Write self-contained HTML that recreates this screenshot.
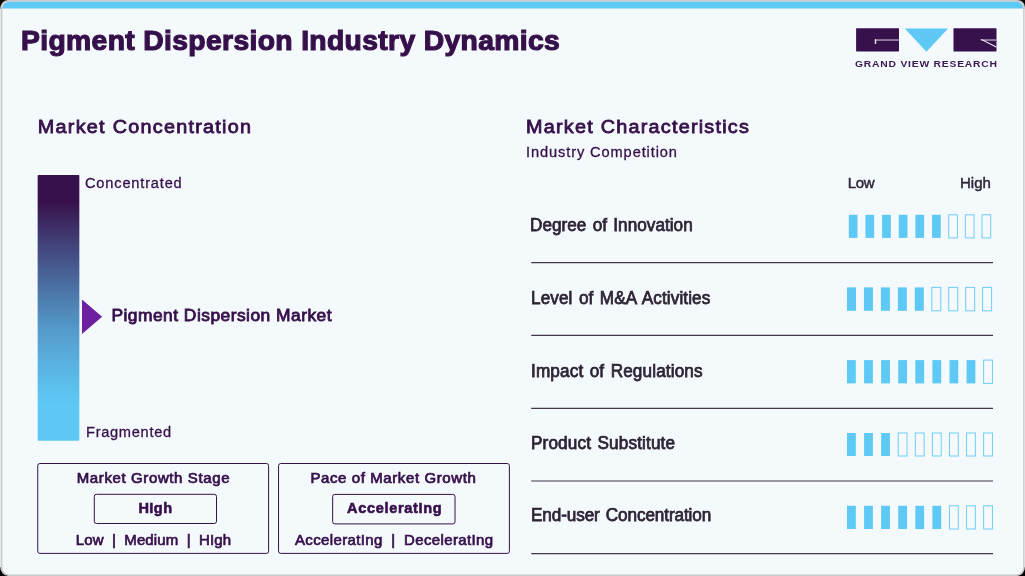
<!DOCTYPE html>
<html lang="en">
<head>
<meta charset="utf-8">
<title>Pigment Dispersion Industry Dynamics</title>
<style>
html,body{margin:0;padding:0;}
body{width:1025px;height:576px;overflow:hidden;background:#000;font-family:"Liberation Sans",sans-serif;}
#card{position:absolute;left:0;top:0;width:1025px;height:576px;overflow:hidden;}
#card svg{position:absolute;left:0;top:0;}
.t{position:absolute;white-space:nowrap;line-height:1;font-family:"Liberation Sans",sans-serif;}
#txt{position:absolute;left:0;top:0;width:1025px;height:576px;will-change:transform;}
</style>
</head>
<body>
<div id="card">
<svg width="1025" height="576" viewBox="0 0 1025 576">
<defs>
<linearGradient id="g" x1="0" y1="0" x2="0" y2="1">
<stop offset="0.0000" stop-color="#37114c"/>
<stop offset="0.1016" stop-color="#37114c"/>
<stop offset="0.2480" stop-color="#413f76"/>
<stop offset="0.4740" stop-color="#4e7fb1"/>
<stop offset="0.5870" stop-color="#549bcb"/>
<stop offset="0.7000" stop-color="#59b0de"/>
<stop offset="0.8130" stop-color="#5cc2ee"/>
<stop offset="0.8650" stop-color="#5ec9f5"/>
<stop offset="1.0000" stop-color="#5ec9f5"/>
</linearGradient>
<clipPath id="cp"><rect x="2.4" y="1.7" width="1020.7" height="572.8" rx="7" ry="7"/></clipPath>
</defs>
<rect x="0" y="0" width="1025" height="576" fill="#000"/>
<path d="M7.7,0 H1017.3 A7.7,7.2 0 0 1 1025,7.2 V566.5 A7.7,9.5 0 0 1 1017.3,576 H8.2 A8.2,10.5 0 0 1 0,565.5 V9.8 A7.7,9.8 0 0 1 7.7,0 Z" fill="#cbcbcb"/>
<rect x="0" y="9" width="1" height="558" fill="#e6e7e8"/>
<rect x="1024" y="9" width="1" height="558" fill="#dcdddf"/>
<g clip-path="url(#cp)">
<rect x="0" y="0" width="1025" height="576" fill="#f4f9fc"/>
<rect x="0" y="0" width="1025" height="8.5" fill="#5ec9f5"/>
</g>
<!-- gradient bar -->
<rect x="37.65" y="175" width="41.7" height="265.8" rx="1" fill="url(#g)"/>
<!-- marker -->
<polygon points="82.0,299.4 102.1,316.7 82.0,334.1" fill="#6d21a0"/>
<!-- boxes -->
<rect x="37.75" y="463.5" width="230.85" height="89.9" rx="2.2" fill="none" stroke="#36104b" stroke-width="1"/>
<rect x="278.55" y="463.5" width="230.85" height="89.9" rx="2.2" fill="none" stroke="#36104b" stroke-width="1"/>
<rect x="94.3" y="494.3" width="122.2" height="29.2" rx="2.2" fill="none" stroke="#36104b" stroke-width="1"/>
<rect x="332.65" y="494.4" width="122.35" height="29.5" rx="2.2" fill="none" stroke="#36104b" stroke-width="1"/>
<!-- logo -->
<g id="logo">
<rect x="856.1" y="28.2" width="42.9" height="23.2" rx="0.6" fill="#37114c"/>
<rect x="875.2" y="39.2" width="23.8" height="1.7" fill="#9c86a8"/>
<rect x="874.8" y="39.2" width="1.4" height="4.7" fill="#efe9f3"/>
<polygon points="904.8,28.4 948.1,28.4 926.4,51.8" fill="#5ec9f5"/>
<rect x="953.5" y="28.2" width="43" height="23.2" rx="0.6" fill="#37114c"/>
<rect x="981" y="39.2" width="15.5" height="1.7" fill="#9c86a8"/>
<polygon points="980.1,39.2 982.2,39.2 996.5,46.4 996.5,47.7" fill="#f3eff6"/>
</g>
<!-- separators -->
<line x1="531.2" x2="993" y1="262.55" y2="262.55" stroke="#41364a" stroke-width="1.15"/>
<line x1="531.2" x2="993" y1="335.4" y2="335.4" stroke="#41364a" stroke-width="1.15"/>
<line x1="531.2" x2="993" y1="408.3" y2="408.3" stroke="#41364a" stroke-width="1.15"/>
<line x1="531.2" x2="993" y1="481.0" y2="481.0" stroke="#41364a" stroke-width="1.15"/>
<line x1="531.2" x2="993" y1="553.65" y2="553.65" stroke="#41364a" stroke-width="1.15"/>
<!-- rating bars -->
<rect x="848.80" y="214.80" width="8.7" height="23.1" fill="#5ec9f5"/>
<rect x="865.45" y="214.80" width="8.7" height="23.1" fill="#5ec9f5"/>
<rect x="882.10" y="214.80" width="8.7" height="23.1" fill="#5ec9f5"/>
<rect x="898.75" y="214.80" width="8.7" height="23.1" fill="#5ec9f5"/>
<rect x="915.40" y="214.80" width="8.7" height="23.1" fill="#5ec9f5"/>
<rect x="932.05" y="214.80" width="8.7" height="23.1" fill="#5ec9f5"/>
<rect x="948.70" y="214.80" width="8.7" height="23.1" fill="#f6fafd" stroke="#5ec9f5" stroke-width="1" stroke-opacity="0.9"/>
<rect x="965.35" y="214.80" width="8.7" height="23.1" fill="#f6fafd" stroke="#5ec9f5" stroke-width="1" stroke-opacity="0.9"/>
<rect x="982.00" y="214.80" width="8.7" height="23.1" fill="#f6fafd" stroke="#5ec9f5" stroke-width="1" stroke-opacity="0.9"/>
<rect x="847.00" y="287.40" width="9.0" height="23.4" fill="#5ec9f5"/>
<rect x="863.95" y="287.40" width="9.0" height="23.4" fill="#5ec9f5"/>
<rect x="880.90" y="287.40" width="9.0" height="23.4" fill="#5ec9f5"/>
<rect x="897.85" y="287.40" width="9.0" height="23.4" fill="#5ec9f5"/>
<rect x="914.80" y="287.40" width="9.0" height="23.4" fill="#5ec9f5"/>
<rect x="931.75" y="287.40" width="9.0" height="23.4" fill="#f6fafd" stroke="#5ec9f5" stroke-width="1" stroke-opacity="0.9"/>
<rect x="948.70" y="287.40" width="9.0" height="23.4" fill="#f6fafd" stroke="#5ec9f5" stroke-width="1" stroke-opacity="0.9"/>
<rect x="965.65" y="287.40" width="9.0" height="23.4" fill="#f6fafd" stroke="#5ec9f5" stroke-width="1" stroke-opacity="0.9"/>
<rect x="982.60" y="287.40" width="9.0" height="23.4" fill="#f6fafd" stroke="#5ec9f5" stroke-width="1" stroke-opacity="0.9"/>
<rect x="847.00" y="360.10" width="8.8" height="23.3" fill="#5ec9f5"/>
<rect x="864.08" y="360.10" width="8.8" height="23.3" fill="#5ec9f5"/>
<rect x="881.16" y="360.10" width="8.8" height="23.3" fill="#5ec9f5"/>
<rect x="898.24" y="360.10" width="8.8" height="23.3" fill="#5ec9f5"/>
<rect x="915.32" y="360.10" width="8.8" height="23.3" fill="#5ec9f5"/>
<rect x="932.40" y="360.10" width="8.8" height="23.3" fill="#5ec9f5"/>
<rect x="949.48" y="360.10" width="8.8" height="23.3" fill="#5ec9f5"/>
<rect x="966.56" y="360.10" width="8.8" height="23.3" fill="#5ec9f5"/>
<rect x="983.64" y="360.10" width="8.8" height="23.3" fill="#f6fafd" stroke="#5ec9f5" stroke-width="1" stroke-opacity="0.9"/>
<rect x="847.00" y="433.00" width="8.8" height="23.0" fill="#5ec9f5"/>
<rect x="864.08" y="433.00" width="8.8" height="23.0" fill="#5ec9f5"/>
<rect x="881.16" y="433.00" width="8.8" height="23.0" fill="#5ec9f5"/>
<rect x="898.24" y="433.00" width="8.8" height="23.0" fill="#f6fafd" stroke="#5ec9f5" stroke-width="1" stroke-opacity="0.9"/>
<rect x="915.32" y="433.00" width="8.8" height="23.0" fill="#f6fafd" stroke="#5ec9f5" stroke-width="1" stroke-opacity="0.9"/>
<rect x="932.40" y="433.00" width="8.8" height="23.0" fill="#f6fafd" stroke="#5ec9f5" stroke-width="1" stroke-opacity="0.9"/>
<rect x="949.48" y="433.00" width="8.8" height="23.0" fill="#f6fafd" stroke="#5ec9f5" stroke-width="1" stroke-opacity="0.9"/>
<rect x="966.56" y="433.00" width="8.8" height="23.0" fill="#f6fafd" stroke="#5ec9f5" stroke-width="1" stroke-opacity="0.9"/>
<rect x="983.64" y="433.00" width="8.8" height="23.0" fill="#f6fafd" stroke="#5ec9f5" stroke-width="1" stroke-opacity="0.9"/>
<rect x="847.00" y="505.80" width="8.8" height="23.2" fill="#5ec9f5"/>
<rect x="864.08" y="505.80" width="8.8" height="23.2" fill="#5ec9f5"/>
<rect x="881.16" y="505.80" width="8.8" height="23.2" fill="#5ec9f5"/>
<rect x="898.24" y="505.80" width="8.8" height="23.2" fill="#5ec9f5"/>
<rect x="915.32" y="505.80" width="8.8" height="23.2" fill="#5ec9f5"/>
<rect x="932.40" y="505.80" width="8.8" height="23.2" fill="#5ec9f5"/>
<rect x="949.48" y="505.80" width="8.8" height="23.2" fill="#f6fafd" stroke="#5ec9f5" stroke-width="1" stroke-opacity="0.9"/>
<rect x="966.56" y="505.80" width="8.8" height="23.2" fill="#f6fafd" stroke="#5ec9f5" stroke-width="1" stroke-opacity="0.9"/>
<rect x="983.64" y="505.80" width="8.8" height="23.2" fill="#f6fafd" stroke="#5ec9f5" stroke-width="1" stroke-opacity="0.9"/>
</svg>
<div id="txt">
<div class="t" style="left:20.63px;top:27.00px;font-size:27.2px;font-weight:bold;letter-spacing:0.343px;color:#36104b;-webkit-text-stroke:1.15px #36104b;transform:scale(1.04,1.0);transform-origin:0 0;">Pigment Dispersion Industry Dynamics</div>
<div class="t" style="left:37.77px;top:117.88px;font-size:19.8px;font-weight:normal;letter-spacing:1.273px;color:#36104b;-webkit-text-stroke:0.85px #36104b;transform:scale(1.0,0.945);transform-origin:0 0;">Market Concentration</div>
<div class="t" style="left:526.07px;top:117.88px;font-size:19.8px;font-weight:normal;letter-spacing:1.241px;color:#36104b;-webkit-text-stroke:0.85px #36104b;transform:scale(1.0,0.945);transform-origin:0 0;">Market Characteristics</div>
<div class="t" style="left:525.98px;top:144.00px;font-size:15.4px;font-weight:normal;letter-spacing:0.936px;color:#36104b;-webkit-text-stroke:0.3px #36104b;transform:scale(0.95,1.0);transform-origin:0 0;">Industry Competition</div>
<div class="t" style="left:85.34px;top:175.00px;font-size:15.4px;font-weight:normal;letter-spacing:0.854px;color:#36104b;-webkit-text-stroke:0.3px #36104b;transform:scale(0.95,1.0);transform-origin:0 0;">Concentrated</div>
<div class="t" style="left:85.87px;top:424.00px;font-size:15.4px;font-weight:normal;letter-spacing:0.736px;color:#36104b;-webkit-text-stroke:0.3px #36104b;transform:scale(0.95,1.0);transform-origin:0 0;">Fragmented</div>
<div class="t" style="left:111.46px;top:307.70px;font-size:17.4px;font-weight:normal;letter-spacing:0.472px;color:#36104b;-webkit-text-stroke:0.85px #36104b;transform:scale(1.0,0.95);transform-origin:0 0;">Pigment Dispersion Market</div>
<div class="t" style="left:76.75px;top:470.39px;font-size:15.0px;font-weight:normal;letter-spacing:0.612px;color:#36104b;-webkit-text-stroke:0.75px #36104b;transform:scale(1.0,0.97);transform-origin:0 0;">Market Growth Stage</div>
<div class="t" style="left:310.45px;top:470.39px;font-size:15.0px;font-weight:normal;letter-spacing:0.597px;color:#36104b;-webkit-text-stroke:0.75px #36104b;transform:scale(1.0,0.97);transform-origin:0 0;">Pace of Market Growth</div>
<div class="t" style="left:138.45px;top:501.00px;font-size:14.5px;font-weight:bold;letter-spacing:0.453px;color:#36104b;-webkit-text-stroke:0.6px #36104b;">HIgh</div>
<div class="t" style="left:347.03px;top:501.00px;font-size:14.5px;font-weight:bold;letter-spacing:0.692px;color:#36104b;-webkit-text-stroke:0.6px #36104b;">AcceleratIng</div>
<div class="t" style="left:75.83px;top:532.39px;font-size:15.0px;font-weight:normal;letter-spacing:0.120px;color:#36104b;-webkit-text-stroke:0.7px #36104b;transform:scale(1.0,0.97);transform-origin:0 0;word-spacing:4.0px;">Low | Medium | HIgh</div>
<div class="t" style="left:294.97px;top:532.39px;font-size:15.0px;font-weight:normal;letter-spacing:0.363px;color:#36104b;-webkit-text-stroke:0.7px #36104b;transform:scale(1.0,0.97);transform-origin:0 0;word-spacing:4.0px;">AcceleratIng | DeceleratIng</div>
<div class="t" style="left:530.33px;top:217.00px;font-size:17.5px;font-weight:normal;letter-spacing:0.030px;color:#2e2436;-webkit-text-stroke:0.75px #2e2436;transform:scale(0.98,1.0);transform-origin:0 0;word-spacing:1.5px;">Degree of Innovation</div>
<div class="t" style="left:530.83px;top:290.00px;font-size:17.5px;font-weight:normal;letter-spacing:0.111px;color:#2e2436;-webkit-text-stroke:0.75px #2e2436;transform:scale(0.98,1.0);transform-origin:0 0;word-spacing:1.5px;">Level of M&amp;A Activities</div>
<div class="t" style="left:530.75px;top:363.00px;font-size:17.5px;font-weight:normal;letter-spacing:0.142px;color:#2e2436;-webkit-text-stroke:0.75px #2e2436;transform:scale(0.98,1.0);transform-origin:0 0;word-spacing:1.5px;">Impact of Regulations</div>
<div class="t" style="left:530.83px;top:435.00px;font-size:17.5px;font-weight:normal;letter-spacing:0.147px;color:#2e2436;-webkit-text-stroke:0.75px #2e2436;transform:scale(0.98,1.0);transform-origin:0 0;word-spacing:1.5px;">Product Substitute</div>
<div class="t" style="left:530.83px;top:507.00px;font-size:17.5px;font-weight:normal;letter-spacing:-0.115px;color:#2e2436;-webkit-text-stroke:0.75px #2e2436;transform:scale(0.98,1.0);transform-origin:0 0;word-spacing:1.5px;">End-user Concentration</div>
<div class="t" style="left:847.79px;top:175.00px;font-size:15.0px;font-weight:normal;letter-spacing:-0.420px;color:#2e2436;-webkit-text-stroke:0.45px #2e2436;">Low</div>
<div class="t" style="left:959.89px;top:175.00px;font-size:15.0px;font-weight:normal;letter-spacing:0.071px;color:#2e2436;-webkit-text-stroke:0.45px #2e2436;">High</div>
<div class="t" style="left:855.48px;top:59.00px;font-size:9.4px;font-weight:bold;letter-spacing:0.718px;color:#3a1850;transform:scale(1.1,1.0);transform-origin:0 0;">GRAND VIEW RESEARCH</div>
</div>
</div>
</body>
</html>
